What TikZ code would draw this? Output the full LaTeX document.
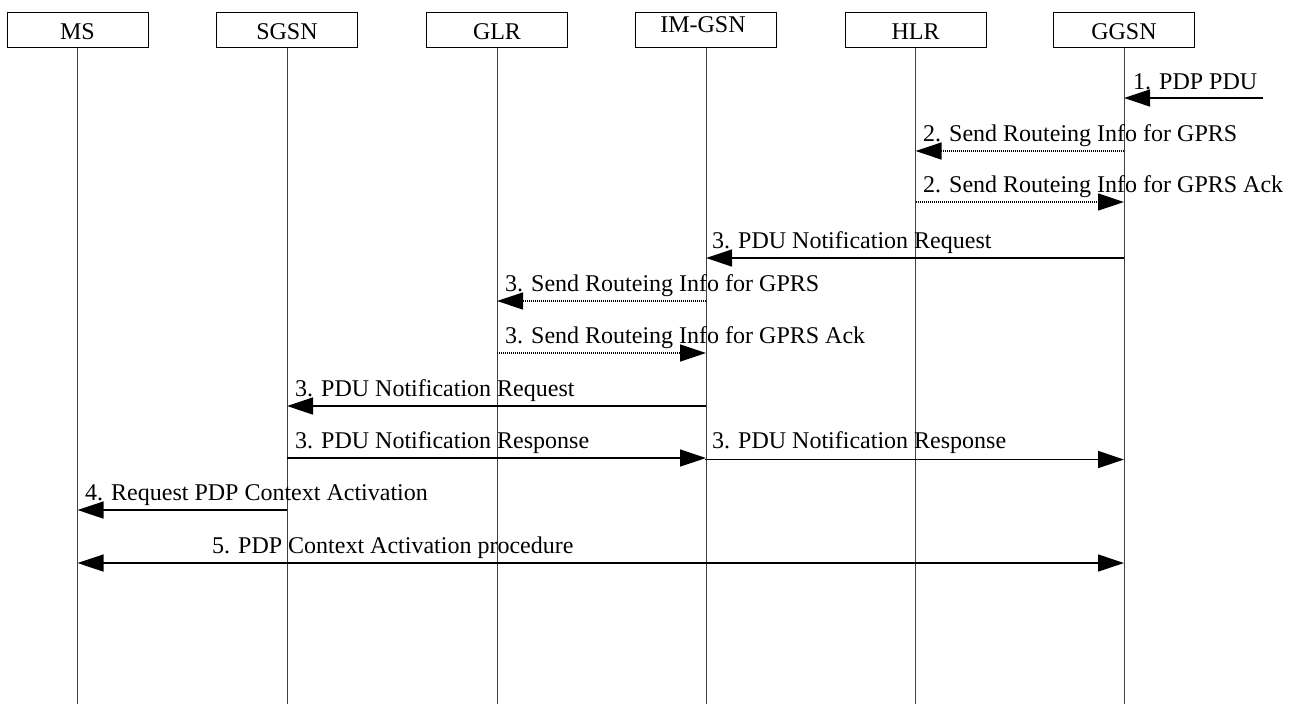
\documentclass[tikz,border=0pt]{standalone}
\usepackage{fontspec}
\setmainfont{Liberation Serif}
\usetikzlibrary{arrows.meta}
\begin{document}
\begin{tikzpicture}[x=1pt,y=-1pt,
  ent/.style={draw, line width=1pt, minimum width=141pt, minimum height=35.5pt, inner sep=0pt},
  enttxt/.style={anchor=base, inner sep=0pt, font=\fontsize{24}{28}\selectfont},
  lbl/.style={anchor=base west, inner sep=0pt, font=\fontsize{24}{28}\selectfont},
  life/.style={line width=1pt, draw=black!75},
  msg/.style={line width=1.3pt, -{Triangle[length=26pt,width=17pt]}},
  bmsg/.style={line width=1.3pt, {Triangle[length=26pt,width=17pt]}-{Triangle[length=26pt,width=17pt]}},
  dmsg/.style={msg, dash pattern=on 1pt off 1pt}]
\useasboundingbox (0,0) rectangle (1295,704);
% entities
\node[ent] (ms)   at (77.5,29.75) {};
\node[ent] (sgsn) at (287,29.75) {};
\node[ent] (glr)  at (497,29.75) {};
\node[ent] (img)  at (706,29.75) {};
\node[ent] (hlr)  at (915.5,29.75) {};
\node[ent] (ggsn) at (1124,29.75) {};
\node[enttxt] (mst)   at (77.5,39) {MS};
\node[enttxt] (sgsnt) at (287,39) {SGSN};
\node[enttxt] (glrt)  at (497,39) {GLR};
\node[enttxt] (imgt)  at (703,32.7) {IM-GSN};
\node[enttxt] (hlrt)  at (915.5,39) {HLR};
\node[enttxt] (ggsnt) at (1124,39) {GGSN};
% lifeline ends
\coordinate (mse)   at (77.5,704);
\coordinate (sgsne) at (287,704);
\coordinate (glre)  at (497,704);
\coordinate (imge)  at (706,704);
\coordinate (hlre)  at (915.5,704);
\coordinate (ggsne) at (1124,704);
\foreach \a/\b in {ms/mse,sgsn/sgsne,glr/glre,img/imge,hlr/hlre,ggsn/ggsne}
  \draw[life] (\a.south) -- (\b);
% message points
\coordinate (p1) at (1263,98);
\coordinate (g1) at (ggsn.south |- p1);
\coordinate (g2) at (1124,151);   \coordinate (h2) at (hlr.south |- g2);
\coordinate (h3) at (915.5,202);  \coordinate (g3) at (ggsn.south |- h3);
\coordinate (g4) at (1124,258);   \coordinate (i4) at (img.south |- g4);
\coordinate (i5) at (706,301);    \coordinate (l5) at (glr.south |- i5);
\coordinate (l6) at (497,353);    \coordinate (i6) at (img.south |- l6);
\coordinate (i7) at (706,406);    \coordinate (s7) at (sgsn.south |- i7);
\coordinate (s8) at (287,458);    \coordinate (i8) at (img.south |- s8);
\coordinate (i9) at (704.5,459.5);\coordinate (g9) at (ggsn.south |- i9);
\coordinate (s10) at (287,510);   \coordinate (m10) at (ms.south |- s10);
\coordinate (m11) at (77.5,563);  \coordinate (g11) at (ggsn.south |- m11);
% messages
\draw[msg]  (p1) -- (g1);
\draw[dmsg] (g2) -- (h2);
\draw[dmsg] (h3) -- (g3);
\draw[msg]  (g4) -- (i4);
\draw[dmsg] (i5) -- (l5);
\draw[dmsg] (l6) -- (i6);
\draw[msg]  (i7) -- (s7);
\draw[msg]  (s8) -- (i8);
\draw[msg]  (i9) -- (g9);
\draw[msg]  (s10) -- (m10);
\draw[bmsg] (m11) -- (g11);
% labels
\node[lbl] (t1)  at (1133,89)  {1. PDP PDU};
\node[lbl] (t2)  at (923,141)  {2. Send Routeing Info for GPRS};
\node[lbl] (t3)  at (923,192)  {2. Send Routeing Info for GPRS Ack};
\node[lbl] (t4)  at (712,248)  {3. PDU Notification Request};
\node[lbl] (t5)  at (505,291)  {3. Send Routeing Info for GPRS};
\node[lbl] (t6)  at (505,343)  {3. Send Routeing Info for GPRS Ack};
\node[lbl] (t7)  at (295,396)  {3. PDU Notification Request};
\node[lbl] (t8)  at (295,448)  {3. PDU Notification Response};
\node[lbl] (t9)  at (712,448)  {3. PDU Notification Response};
\node[lbl] (t10) at (85,500)   {4. Request PDP Context Activation};
\node[lbl] (t11) at (212,553)  {5. PDP Context Activation procedure};
\end{tikzpicture}
\end{document}
